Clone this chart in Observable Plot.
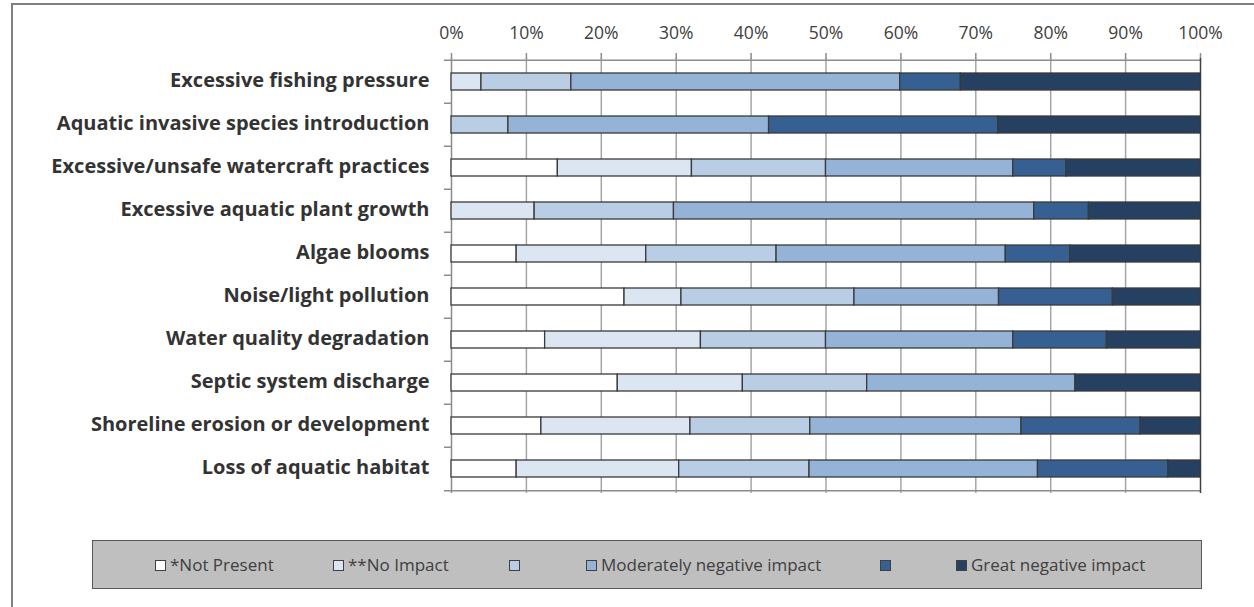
<!DOCTYPE html>
<html>
<head>
<meta charset="utf-8">
<script src="https://cdn.jsdelivr.net/npm/d3@7"></script>
<script src="https://cdn.jsdelivr.net/npm/@observablehq/plot@0.6"></script>
<style>
  html, body { margin: 0; padding: 0; background: #fff; }
  #wrap { position: relative; width: 1254px; height: 607px; overflow: hidden; font-family: "Open Sans", sans-serif; }
  #frame { position: absolute; left: 11px; top: 3px; width: 1260px; height: 620px; border-left: 2px solid #808080; border-top: 2px solid #808080; box-sizing: border-box; }
  #chart { position: absolute; left: 0; top: 0; }
  #legend { position: absolute; left: 92px; top: 540px; width: 1110px; height: 49px; background: #bfbfbf; border: 1.5px solid #595959; box-sizing: border-box; }
  .item { position: absolute; top: 13px; height: 22px; line-height: 22px; font-size: 17px; color: #404040; display: flex; align-items: center; white-space: nowrap; }
  .sw { display: inline-block; width: 9px; height: 9px; border: 1px solid #404040; margin-right: 4px; flex: none; }
</style>
</head>
<body>
<div id="wrap">
  <div id="frame"></div>
  <div id="chart"></div>
  <div id="legend"></div>
</div>
<script>
const issues = [
  "Excessive fishing pressure",
  "Aquatic invasive species introduction",
  "Excessive/unsafe watercraft practices",
  "Excessive aquatic plant growth",
  "Algae blooms",
  "Noise/light pollution",
  "Water quality degradation",
  "Septic system discharge",
  "Shoreline erosion or development",
  "Loss of aquatic habitat"
];
const levelKeys = ["L1", "L2", "L3", "L4", "L5", "L6"];
const levelLabels = ["*Not Present", "**No Impact", "", "Moderately negative impact", "", "Great negative impact"];
const levelColors = ["#ffffff", "#dce6f2", "#b9cde5", "#95b3d7", "#376092", "#254061"];
// percent shares per issue, in level order
const notPresent  = [0,    0,    14.2, 0,    8.7,  23.1, 12.5, 22.2, 12.0, 8.7];
const noImpact    = [4.0,  0,    17.9, 11.1, 17.3, 7.6,  20.8, 16.7, 19.9, 21.7];
const level3      = [12.0, 7.6,  17.9, 18.6, 17.4, 23.1, 16.7, 16.6, 16.0, 17.4];
const moderate    = [43.9, 34.8, 25.0, 48.1, 30.6, 19.3, 25.0, 27.8, 28.2, 30.5];
const level5      = [8.1,  30.6, 7.1,  7.3,  8.6,  15.2, 12.5, 0,    15.9, 17.4];
const great       = [32.0, 27.0, 17.9, 14.9, 17.4, 11.7, 12.5, 16.7, 8.0,  4.3];
const xTicks = [0, 10, 20, 30, 40, 50, 60, 70, 80, 90, 100];

const series = [notPresent, noImpact, level3, moderate, level5, great];
const data = [];
issues.forEach((issue, i) => {
  series.forEach((vals, j) => {
    data.push({issue, level: levelKeys[j], value: vals[i]});
  });
});

const H = 510, mt = 58, mb = 17;
const half = (H - mt - mb) / issues.length / 2;

const chart = Plot.plot({
  width: 1254,
  height: H,
  marginTop: mt,
  marginBottom: mb,
  marginLeft: 451,
  marginRight: 54,
  style: {fontFamily: "'Open Sans', sans-serif", background: "transparent", overflow: "visible"},
  x: {domain: [0, 100], axis: null},
  y: {domain: issues, paddingInner: 0.6, paddingOuter: 0.3, axis: null},
  color: {domain: levelKeys, range: levelColors},
  marks: [
    Plot.ruleX(xTicks.filter(d => d > 0 && d < 100), {stroke: "#a6a6a6", strokeWidth: 1.5}),
    Plot.ruleY([issues[0]], {x1: 0, x2: 100, dy: -half, stroke: "#8c8c8c", strokeWidth: 1.5}),
    Plot.ruleY([issues[issues.length - 1]], {x1: 0, x2: 100, dy: half, stroke: "#8c8c8c", strokeWidth: 1.5}),
    Plot.axisX({anchor: "top", ticks: xTicks, tickSize: 6, tickPadding: 14, tickFormat: d => d + "%", fontSize: 17.5, color: "#404040", stroke: "#8c8c8c", strokeWidth: 1.5, label: null}),
    Plot.axisY({anchor: "left", tickSize: 7, text: null, dy: -half, stroke: "#8c8c8c", strokeWidth: 1.5, label: null}),
    Plot.axisY({anchor: "left", ticks: [issues[issues.length - 1]], tickSize: 7, text: null, dy: half, stroke: "#8c8c8c", strokeWidth: 1.5, label: null}),
    Plot.axisY({anchor: "left", tickSize: 0, tickPadding: 22, fontSize: 20, fontWeight: "bold", color: "#333333", label: null, dy: -1}),
    Plot.ruleX([0], {stroke: "#8c8c8c", strokeWidth: 1.5}),
    Plot.ruleX([100], {stroke: "#404040", strokeWidth: 1.5}),
    Plot.barX(data.filter(d => d.value > 0), Plot.stackX({x: "value", y: "issue", fill: "level", stroke: "#3a3a3a", strokeWidth: 1.3, inset: 0}))
  ]
});
document.getElementById("chart").appendChild(chart);

const legendPos = [154, 332, 508, 585, 879, 955];
const legend = document.getElementById("legend");
levelKeys.forEach((k, j) => {
  const it = document.createElement("div");
  it.className = "item";
  it.style.left = (legendPos[j] - 92) + "px";
  const sw = document.createElement("span");
  sw.className = "sw";
  sw.style.background = levelColors[j];
  it.appendChild(sw);
  const t = document.createElement("span");
  t.textContent = levelLabels[j];
  it.appendChild(t);
  legend.appendChild(it);
});
</script>
</body>
</html>
